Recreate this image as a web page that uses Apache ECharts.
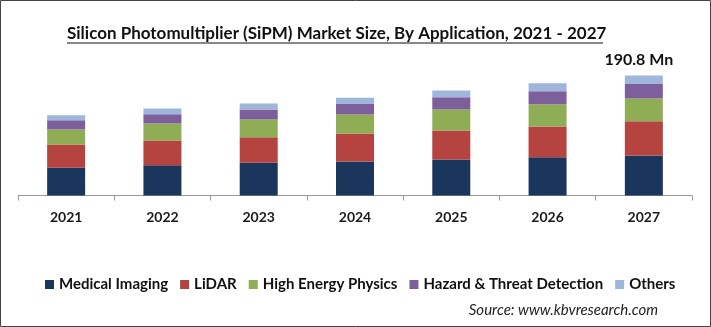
<!DOCTYPE html>
<html><head><meta charset="utf-8">
<script src="https://cdn.jsdelivr.net/npm/echarts@6/dist/echarts.min.js"></script>
<style>html,body{margin:0;padding:0;background:#fff}#c{width:711px;height:327px}</style>
</head><body><div id="c"></div>
<script>
const categories = ['2021','2022','2023','2024','2025','2026','2027'];
const medicalImaging = [44.0, 48.2, 52.0, 54.1, 57.2, 60.9, 63.6];
const lidar = [37.1, 39.3, 40.7, 44.5, 46.1, 48.8, 54.5];
const highEnergyPhysics = [23.8, 27.0, 28.1, 30.2, 33.4, 35.5, 36.1];
const hazardThreat = [14.8, 14.8, 15.9, 17.5, 19.6, 20.7, 23.9];
const others = [7.9, 9.1, 9.5, 9.1, 10.6, 12.7, 12.7];
const seriesNames = ['Medical Imaging','LiDAR','High Energy Physics','Hazard & Threat Detection','Others'];
const colors = ['#1b365d','#b5433f','#8fad55','#7c5f9b','#9fb6dc'];
const totalLabel = '190.8 Mn';

const chart = echarts.init(document.getElementById('c'), null, {renderer:'canvas'});
const FONT = 'Lato, "Open Sans", sans-serif';
const seriesData = [medicalImaging, lidar, highEnergyPhysics, hazardThreat, others];
const series = seriesData.map((d,i)=>({
  name: seriesNames[i], type:'bar', stack:'total', barWidth:38,
  itemStyle:{color:colors[i]},
  data: d.map((v,j)=>{
    if(i===4 && j===d.length-1){
      return {value:v, label:{show:true, position:'top', offset:[-5,-3], formatter:totalLabel,
        fontFamily:FONT, fontWeight:'bold', fontSize:16, color:'#111'}};
    }
    return v;
  })
}));
chart.setOption({
  animation:false,
  backgroundColor:'#fff',
  grid:{left:18, right:19, top:69.8, bottom:131.5, containLabel:false},
  xAxis:{type:'category', data:categories,
    axisLine:{lineStyle:{color:'#9a9a9a', width:1}},
    axisTick:{show:true, length:5, lineStyle:{color:'#9a9a9a'}},
    axisLabel:{fontFamily:FONT, fontWeight:'bold', fontSize:14, color:'#1a1a1a', margin:15}},
  yAxis:{type:'value', min:0, max:200, show:false, splitLine:{show:false}},
  legend:{data:seriesNames, bottom:30, left:40, itemWidth:9, itemHeight:9, itemGap:12,
    icon:'rect', textStyle:{fontFamily:FONT, fontSize:15, fontWeight:'bold', color:'#111'}},
  graphic:[
    {type:'rect', shape:{x:0.5,y:0.5,width:710,height:326}, style:{fill:'none', stroke:'#444', lineWidth:1}},
    {type:'text', left:67, top:25, style:{text:'Silicon Photomultiplier (SiPM) Market Size, By Application, 2021 - 2027',
      font:'bold 17px '+FONT, fill:'#111'}},
    {type:'line', shape:{x1:67,y1:43,x2:603,y2:43}, style:{stroke:'#111', lineWidth:1}},
    {type:'text', right:53, top:303, style:{text:'Source: www.kbvresearch.com', font:'italic 15px '+FONT, fill:'#222'}}
  ],
  series: series
});
</script></body></html>
